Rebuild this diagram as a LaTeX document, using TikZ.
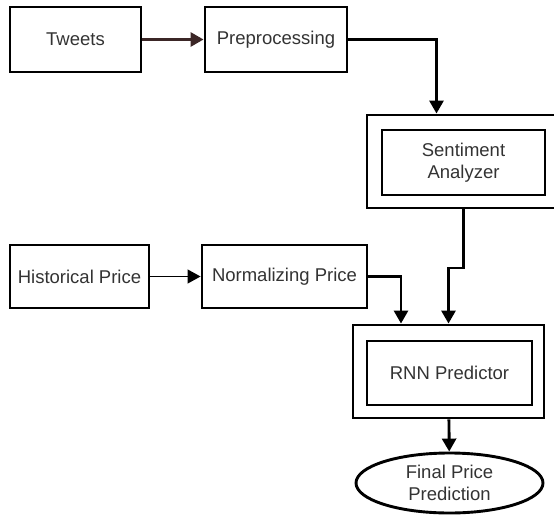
\documentclass[tikz,border=0pt]{standalone}
\usepackage{fontspec}
\setmainfont{Liberation Sans}
\usetikzlibrary{arrows.meta,shapes.geometric}
\definecolor{txtgray}{HTML}{333333}
\definecolor{arrowbrown}{HTML}{3B2626}

\begin{document}
\begin{tikzpicture}[x=1pt,y=-1pt,
    box/.style={draw, line width=2.9pt, inner sep=0pt, align=center,
      text=txtgray, font=\fontsize{18.5}{22}\selectfont},
    flow/.style={draw, line width=2.9pt,
      -{Triangle[width=14pt,length=13pt]}}]

      \useasboundingbox (0,0) rectangle (554,514);
      \clip (0,0) rectangle (554,514);

      \begin{scope}[every node/.style={box}]
        \node[minimum width=131, minimum height=65] (tweets) at (75.5,39.5) {Tweets};
        \node[minimum width=142, minimum height=65] (prep)   at (276,39.5)  {Preprocessing};
        \node[minimum width=193, minimum height=93] (sentOut) at (463.5,161.5) {};
        \node[minimum width=163, minimum height=65] (sentIn)  at (463.5,162.5) {Sentiment\\Analyzer};
        \node[minimum width=139, minimum height=63] (hist)   at (79.5,276.5) {Historical Price};
        \node[minimum width=165, minimum height=63] (norm)   at (284.5,276.5) {Normalizing Price};
        \node[minimum width=191, minimum height=93] (rnnOut) at (448.5,371.5) {};
        \node[minimum width=165, minimum height=64] (rnnIn)  at (449.5,373) {RNN Predictor};
        \node[ellipse, minimum width=187, minimum height=60] (final) at (449.5,483) {Final Price\\Prediction};
      \end{scope}

      \coordinate (jog) at (463.5,268);

      \begin{scope}[every path/.style={flow}]
        \path (tweets) edge[draw=arrowbrown] (prep);
        \draw (prep.east) -| ([xshift=-27]sentOut.north);
        \draw[line width=1.2pt] (hist) -- (norm);
        \draw (norm.east) -| ([xshift=-47.5]rnnOut.north);
        \draw (sentOut.south) -- (jog) -| (rnnOut.north);
        \draw (rnnOut) -- (final);
      \end{scope}

    \end{tikzpicture}
\end{document}
